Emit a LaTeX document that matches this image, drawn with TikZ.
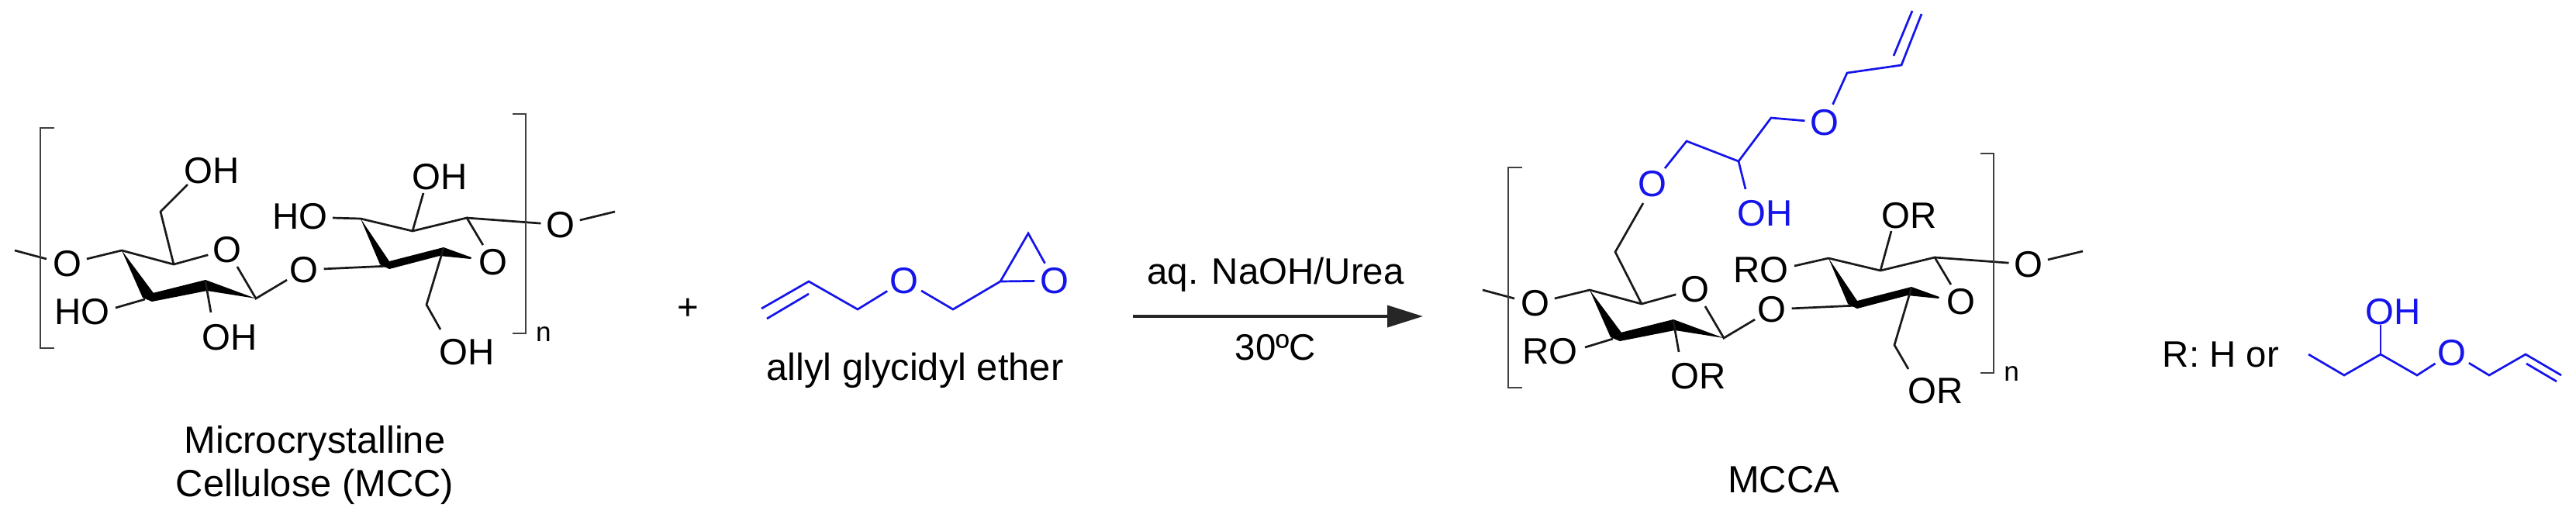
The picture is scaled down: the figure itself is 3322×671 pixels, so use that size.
\documentclass[tikz,border=0pt]{standalone}
\usepackage{fontspec}
\setmainfont{Liberation Sans}
\usetikzlibrary{arrows.meta}
\definecolor{allylblue}{RGB}{20,20,235}
\tikzset{
    atom/.style={circle,inner sep=0pt,font=\fontsize{13.5}{16}\selectfont},
    label text/.style={inner sep=0pt,align=center,font=\fontsize{13.5}{16}\selectfont},
    name text/.style={inner sep=0pt,align=center,font=\fontsize{13.9}{15.9}\selectfont},
    bond/.style={line width=0.27mm,black!90},
    blue bond/.style={line width=0.27mm,allylblue},
    bracket/.style={line width=0.22mm,black!75},
    wedge bond/.style={fill=black},
}
% one repeat unit: #1 is the name prefix, #2 the shift
\newcommand{\cellobiose}[2]{
    \begin{scope}[shift={#2},name prefix=#1-]
        \coordinate (a1) at (157,323);
        \coordinate (a2) at (224,341);
        \coordinate (a3) at (330,385);
        \coordinate (a4) at (265,363);
        \coordinate (a5) at (187,386);
        \coordinate (b1) at (502,343);
        \coordinate (b2) at (572,320);
        \coordinate (b3) at (465,282);
        \coordinate (b4) at (532,298);
        \coordinate (b5) at (602,281);
        \coordinate (stubL) at (19,323);
        \coordinate (stubM) at (60,334);
        \coordinate (stubR) at (793,273);
        \node [atom] (oL) at (87,340) {O};
        \node [atom] (oA) at (293,322) {O};
        \node [atom] (oB) at (392,348) {O};
        \node [atom] (oC) at (636,338) {O};
        \node [atom] (oR) at (723,290) {O};
        \draw [bond] (stubL) -- (stubM);
        \draw [bond] (oL) -- (a1) -- (a2) -- (oA);
        \draw [bond] (oA) -- (a3) -- (oB) -- (b1);
        \draw [bond] (b3) -- (b4) -- (b5) -- (oC);
        \draw [bond] (b5) -- (oR) -- (stubR);
        \fill [wedge bond] (a1) -- (184,384) -- (196,389) -- (198,378) -- cycle;
        \fill [wedge bond] (197,378) -- (265,361) -- (330,385) -- (267,375) -- (196,389) -- cycle;
        \fill [wedge bond] (b3) -- (490,341) -- (502,347) -- (502,337) -- cycle;
        \fill [wedge bond] (502,337) -- (572,319) -- (608,332) -- (607,334) -- (567,330) -- (502,347) -- cycle;
        \draw [bracket] (70,165) -- (52,165) -- (52,449) -- (70,449);
        \draw [bracket] (661,147) -- (678,147) -- (678,430) -- (661,430);
        \node [inner sep=0pt,font=\fontsize{10}{12}\selectfont] (n) at (701,431) {n};
    \end{scope}
}

\begin{document}
\begin{tikzpicture}[x=0.1mm,y=-0.1mm]
    \useasboundingbox (0,0) rectangle (3322,671);

    % starting cellulose
    \cellobiose{mcc}{(0,0)}
    \coordinate (hoA) at (242,238);
    \coordinate (mccS) at (207,273);
    \coordinate (hoB) at (149,397);
    \coordinate (hoC) at (272,403);
    \coordinate (hoD) at (429,281);
    \coordinate (hoE) at (546,249);
    \coordinate (mccT) at (550,393);
    \coordinate (hoF) at (568,425);
    \node [label text] (ohA) at (273,220) {OH};
    \node [label text] (ohB) at (106,402) {HO};
    \node [label text] (ohC) at (296,435) {OH};
    \node [label text] (ohD) at (387,279) {HO};
    \node [label text] (ohE) at (567,228) {OH};
    \node [label text] (ohF) at (602,454) {OH};
    \draw [bond] (mcc-a2) -- (mccS) -- (hoA);
    \draw [bond] (mcc-a5) -- (hoB);
    \draw [bond] (mcc-a4) -- (hoC);
    \draw [bond] (mcc-b3) -- (hoD);
    \draw [bond] (mcc-b4) -- (hoE);
    \draw [bond] (mcc-b2) -- (mccT) -- (hoF);
    \node [name text] (mccName) at (406,600) {Microcrystalline\\Cellulose (MCC)};

    % allyl glycidyl ether
    \node [label text] (plus) at (887,399) {+};
    \coordinate (agA) at (982,398);
    \coordinate (agB) at (1043,363);
    \coordinate (agC) at (989,411);
    \coordinate (agD) at (1043,379);
    \coordinate (agE) at (1106,399);
    \coordinate (agF) at (1229,399);
    \coordinate (agG) at (1290,363);
    \coordinate (agH) at (1326,301);
    \node [atom,text=allylblue] (agO) at (1166,362) {O};
    \node [atom,text=allylblue] (agR) at (1360,362) {O};
    \draw [blue bond] (agA) -- (agB) -- (agE) -- (agO) -- (agF) -- (agG) -- (agR) -- (agH) -- (agG);
    \draw [blue bond] (agC) -- (agD);
    \node [name text] (agName) at (1180,478) {allyl glycidyl ether};

    % reaction arrow
    \coordinate (arrS) at (1461,408);
    \coordinate (arrE) at (1835,408);
    \draw [-{Triangle[length=4.6mm,width=2.8mm]},line width=0.35mm,black!85] (arrS) -- (arrE);
    \node [label text] (reagent) at (1645,354) {aq. NaOH/Urea};
    \node [label text] (temp) at (1645,448) {30ºC};

    % product
    \cellobiose{mcca}{(1893,51)}
    \coordinate (roA) at (2044,448);
    \coordinate (roB) at (2165,454);
    \coordinate (roC) at (2314,343);
    \coordinate (roD) at (2439,298);
    \coordinate (mcS) at (2443,445);
    \coordinate (roE) at (2461,476);
    \node [label text] (orA) at (1999,453) {RO};
    \node [label text] (orB) at (2190,485) {OR};
    \node [label text] (orC) at (2271,348) {RO};
    \node [label text] (orD) at (2462,278) {OR};
    \node [label text] (orE) at (2496,504) {OR};
    \draw [bond] (mcca-a5) -- (roA);
    \draw [bond] (mcca-a4) -- (roB);
    \draw [bond] (mcca-b3) -- (roC);
    \draw [bond] (mcca-b4) -- (roD);
    \draw [bond] (mcca-b2) -- (mcS) -- (roE);
    \node [name text] (mccaName) at (2300,619) {MCCA};

    % grafted chain
    \coordinate (grA) at (2083,325);
    \coordinate (grK) at (2119,262);
    \coordinate (grB) at (2175,182);
    \coordinate (grC) at (2242,208);
    \coordinate (grD) at (2284,152);
    \coordinate (grE) at (2382,94);
    \coordinate (grF) at (2452,84);
    \coordinate (grG) at (2478,18);
    \coordinate (grH) at (2442,72);
    \coordinate (grI) at (2466,14);
    \coordinate (grJ) at (2251,244);
    \node [atom,text=allylblue] (grO) at (2131,237) {O};
    \node [atom,text=allylblue] (grP) at (2353,158) {O};
    \node [label text,text=allylblue] (grOH) at (2276,275) {OH};
    \draw [bond] (mcca-a2) -- (grA) -- (grK);
    \draw [blue bond] (grO) -- (grB) -- (grC) -- (grD) -- (grP) -- (grE) -- (grF) -- (grG);
    \draw [blue bond] (grH) -- (grI);
    \draw [blue bond] (grC) -- (grJ);

    % R group
    \node [label text] (rText) at (2864,457) {R: H or};
    \coordinate (rA) at (2977,457);
    \coordinate (rB) at (3023,484);
    \coordinate (rC) at (3070,457);
    \coordinate (rD) at (3070,419);
    \coordinate (rE) at (3117,484);
    \coordinate (rF) at (3210,484);
    \coordinate (rG) at (3257,457);
    \coordinate (rH) at (3303,484);
    \coordinate (rI) at (3258,469);
    \coordinate (rJ) at (3297,492);
    \node [atom,text=allylblue] (rO) at (3162,455) {O};
    \node [label text,text=allylblue] (rOH) at (3086,402) {OH};
    \draw [blue bond] (rA) -- (rB) -- (rC) -- (rE) -- (rO) -- (rF) -- (rG) -- (rH);
    \draw [blue bond] (rC) -- (rD);
    \draw [blue bond] (rI) -- (rJ);
\end{tikzpicture}
\end{document}
